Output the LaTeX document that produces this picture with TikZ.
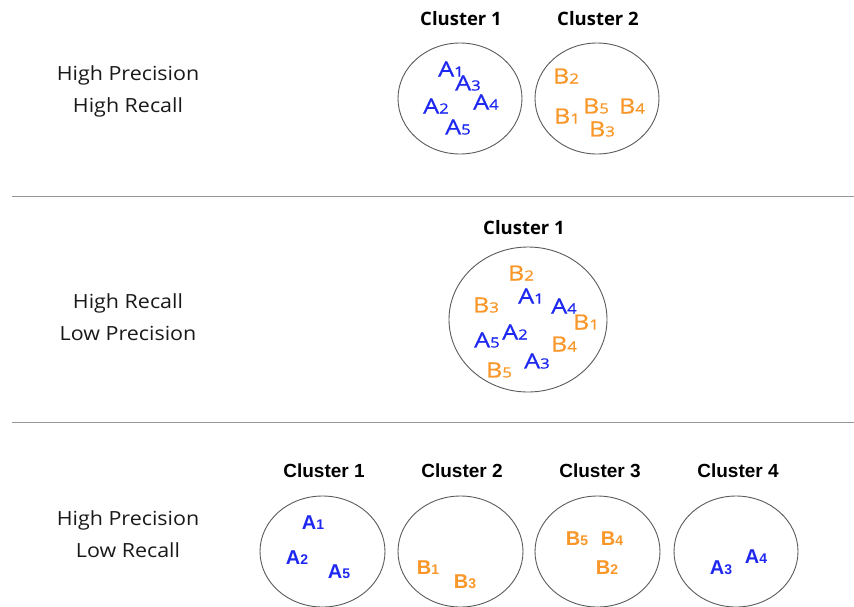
\documentclass[tikz,border=0pt]{standalone}
\usepackage{fontspec}
\setmainfont{Open Sans}
\newfontfamily\widefont[FakeStretch=1.1]{Open Sans}
\newfontfamily\letterfont[FakeStretch=1.2,FakeBold=0.8]{Open Sans}
\newfontfamily\arialfont{Liberation Sans}
\definecolor{ablue}{RGB}{30,40,240}
\definecolor{borange}{RGB}{248,150,40}
\definecolor{ringgray}{RGB}{90,90,90}
\definecolor{rulegray}{RGB}{150,150,150}
\newcommand\mylab[2]{#1{\fontsize{14}{14}\selectfont #2}}
\begin{document}
\begin{tikzpicture}[x=1pt,y=-1pt,
  rowlab/.style={align=center,font=\widefont\fontsize{19.5}{32}\selectfont,text=black!90,inner sep=0pt},
  ctitle/.style={font=\fontsize{18.5}{18}\selectfont\bfseries,inner sep=0pt},
  ctitleb/.style={font=\arialfont\fontsize{19}{19}\selectfont\bfseries,inner sep=0pt},
  ring/.style={draw=ringgray,line width=0.9pt},
  pa/.style={text=ablue,font=\letterfont\fontsize{21}{21}\selectfont,inner sep=0pt},
  pb/.style={text=borange,font=\letterfont\fontsize{21}{21}\selectfont,inner sep=0pt},
  qa/.style={text=ablue,font=\arialfont\fontsize{20}{20}\selectfont\bfseries,inner sep=0pt},
  qb/.style={text=borange,font=\arialfont\fontsize{20}{20}\selectfont\bfseries,inner sep=0pt},
  sep/.style={draw=rulegray,line width=0.9pt}]
\useasboundingbox (0,0) rectangle (854,606);
% separators
\coordinate (s1l) at (12,196); \coordinate (s1r) at (854,196);
\coordinate (s2l) at (12,422); \coordinate (s2r) at (854,422);
\draw[sep] (s1l) -- (s1r);
\draw[sep] (s2l) -- (s2r);
% row labels
\node[rowlab] (r1) at (128,91) {High Precision\\High Recall};
\node[rowlab] (r2) at (128,317) {High Recall\\Low Precision};
\node[rowlab] (r3) at (128,534) {High Precision\\Low Recall};
% row 1
\node[ctitle] (t11) at (461,19) {Cluster 1};
\node[ctitle] (t12) at (598,19) {Cluster 2};
\draw[ring] (460,98.5) ellipse [x radius=62, y radius=55.5];
\draw[ring] (597,98.5) ellipse [x radius=62, y radius=55.5];
\node[pa] (a11) at (451,69) {\mylab{A}{1}};
\node[pa] (a13) at (468,83) {\mylab{A}{3}};
\node[pa] (a12) at (436,106) {\mylab{A}{2}};
\node[pa] (a14) at (486,102) {\mylab{A}{4}};
\node[pa] (a15) at (458,127) {\mylab{A}{5}};
\node[pb] (b12) at (566,76) {\mylab{B}{2}};
\node[pb] (b11) at (567,116) {\mylab{B}{1}};
\node[pb] (b15) at (596,106) {\mylab{B}{5}};
\node[pb] (b14) at (632,106) {\mylab{B}{4}};
\node[pb] (b13) at (602,129) {\mylab{B}{3}};
% row 2
\node[ctitle] (t21) at (524,228) {Cluster 1};
\draw[ring] (528,319.5) ellipse [x radius=79, y radius=72.5];
\node[pb] (b22) at (521,273) {\mylab{B}{2}};
\node[pa] (a21) at (531,296) {\mylab{A}{1}};
\node[pb] (b23) at (486,305) {\mylab{B}{3}};
\node[pa] (a24) at (564,306) {\mylab{A}{4}};
\node[pb] (b21) at (586,322) {\mylab{B}{1}};
\node[pa] (a25) at (487,340) {\mylab{A}{5}};
\node[pa] (a22) at (515,332) {\mylab{A}{2}};
\node[pb] (b24) at (564,344) {\mylab{B}{4}};
\node[pa] (a23) at (537,361) {\mylab{A}{3}};
\node[pb] (b25) at (499,370) {\mylab{B}{5}};
% row 3
\node[ctitleb] (t31) at (324,471) {Cluster 1};
\node[ctitleb] (t32) at (462,471) {Cluster 2};
\node[ctitleb] (t33) at (600,471) {Cluster 3};
\node[ctitleb] (t34) at (738,471) {Cluster 4};
\draw[ring] (322.5,551.5) ellipse [x radius=62.5, y radius=55.5];
\draw[ring] (460.5,551.5) ellipse [x radius=62.5, y radius=55.5];
\draw[ring] (597.5,551.5) ellipse [x radius=62.5, y radius=55.5];
\draw[ring] (736,551.5) ellipse [x radius=62, y radius=55.5];
\node[qa] (a31) at (313,523) {\mylab{A}{1}};
\node[qa] (a32) at (297,558) {\mylab{A}{2}};
\node[qa] (a35) at (339,572) {\mylab{A}{5}};
\node[qb] (b31) at (428,568) {\mylab{B}{1}};
\node[qb] (b33) at (465,582) {\mylab{B}{3}};
\node[qb] (b35) at (577,539) {\mylab{B}{5}};
\node[qb] (b34) at (612,539) {\mylab{B}{4}};
\node[qb] (b32) at (607,568) {\mylab{B}{2}};
\node[qa] (a33) at (721,568) {\mylab{A}{3}};
\node[qa] (a34) at (756,557) {\mylab{A}{4}};
\end{tikzpicture}
\end{document}
